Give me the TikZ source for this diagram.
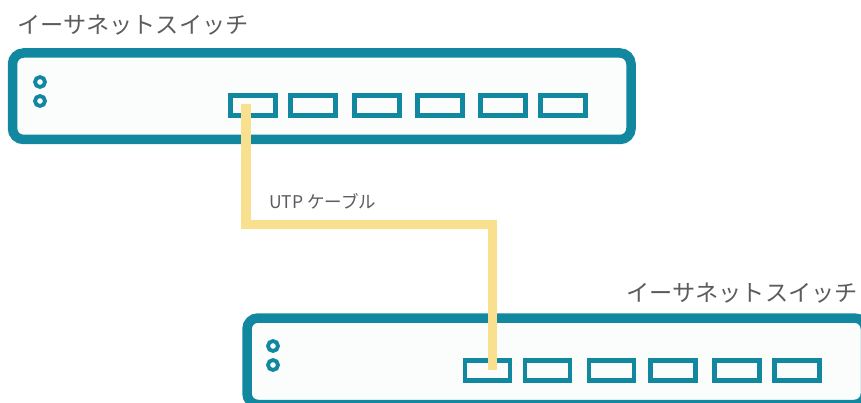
\documentclass[tikz,border=0pt]{standalone}
\usepackage{fontspec}
\newfontfamily\jp{Noto Sans CJK JP}
\definecolor{teal1}{HTML}{1287A0}
\definecolor{boxfill}{HTML}{FBFDFD}
\definecolor{cable}{HTML}{F9E08F}
\definecolor{txt}{HTML}{5C5C5C}
\tikzset{
  swbox/.style={draw=teal1, line width=9.5pt, fill=boxfill, rounded corners=11pt, inner sep=0pt},
  portbox/.style={draw=teal1, line width=4.8pt, fill=boxfill, minimum width=45pt, minimum height=20pt, inner sep=0pt},
  led/.style={circle, draw=teal1, line width=3.8pt, fill=boxfill, minimum size=10pt, inner sep=0pt},
  cablel/.style={draw=cable, line width=9.5pt, line join=miter},
  lbl/.style={font=\jp\fontsize{23.2}{25}\selectfont, text=txt, inner sep=0pt},
  small/.style={font=\jp\fontsize{17.5}{20}\selectfont, text=txt, inner sep=0pt}
}
\begin{document}
\begin{tikzpicture}[x=1pt,y=-1pt]
\useasboundingbox (0,0) rectangle (861,403);
% top switch
\draw[swbox] (12.5,53) rectangle (631,139.5);
\node[lbl, anchor=west] (lab1) at (17,25) {イーサネットスイッチ};
\node[led] (l1a) at (40,82) {};
\node[led] (l1b) at (40,101) {};
\foreach \i/\x in {1/253,2/313,3/377,4/440,5/503,6/563}
  \node[portbox] (p\i) at (\x,105.5) {};
% bottom switch
\draw[swbox] (247,318) rectangle (865.5,404.5);
\node[lbl, anchor=east] (lab2) at (858,293) {イーサネットスイッチ};
\node[led] (l2a) at (273,346) {};
\node[led] (l2b) at (273,365) {};
\foreach \i/\x in {1/487.5,2/547.5,3/611.5,4/673,5/737,6/797}
  \node[portbox] (q\i) at (\x,370.5) {};
% cable
\coordinate (c0) at (246,104);
\coordinate (c1) at (246,224.5);
\coordinate (c2) at (492.5,224.5);
\coordinate (c3) at (492.5,369.5);
\draw[cablel] (c0) -- (c1) -- (c2) -- (c3);
\node[small, anchor=west] (utp) at (269,201) {UTP ケーブル};
\end{tikzpicture}
\end{document}
